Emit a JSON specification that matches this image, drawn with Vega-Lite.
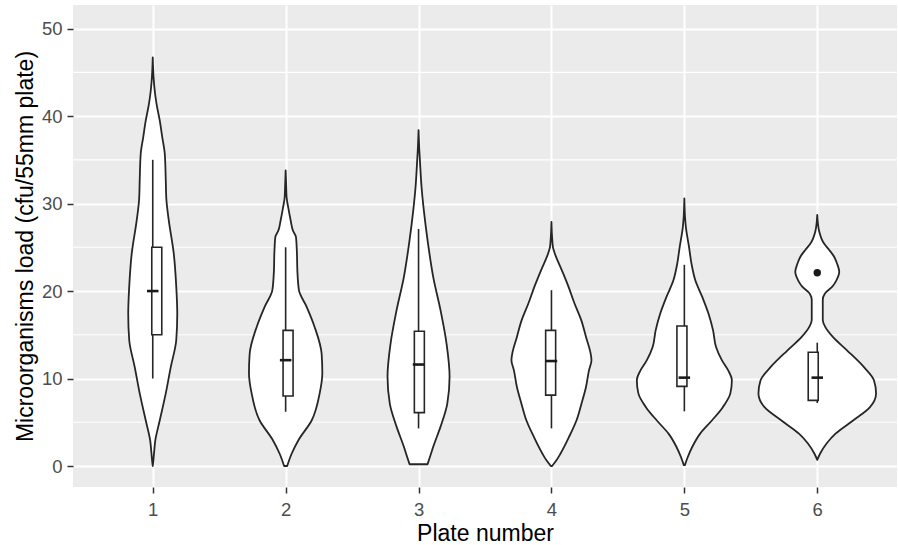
{
  "$schema": "https://vega.github.io/schema/vega-lite/v6.json",
  "width": 824,
  "height": 482,
  "autosize": {"type": "none"},
  "padding": {"left": 73, "top": 5, "right": 1, "bottom": 58},
  "background": "white",
  "config": {
    "view": {"fill": "#ebebeb", "stroke": null},
    "font": "Liberation Sans",
    "axis": {
      "labelFont": "Liberation Sans",
      "titleFont": "Liberation Sans",
      "labelFontSize": 18.5,
      "labelColor": "#4d4d4d",
      "titleFontSize": 23,
      "titleColor": "#000000",
      "titleFontWeight": "normal",
      "tickColor": "#333333",
      "tickSize": 6,
      "tickWidth": 1.5,
      "domain": false,
      "gridColor": "#ffffff",
      "gridWidth": 2
    }
  },
  "datasets": {
    "violin": [
      {"plate": 1, "v": 0, "w": 0}, {"plate": 1, "v": 0.5, "w": 0.008}, {"plate": 1, "v": 1.5, "w": 0.02}, {"plate": 1, "v": 2.9, "w": 0.038}, {"plate": 1, "v": 5.2, "w": 0.105}, {"plate": 1, "v": 8.3, "w": 0.196}, {"plate": 1, "v": 11.3, "w": 0.271}, {"plate": 1, "v": 14.4, "w": 0.354}, {"plate": 1, "v": 17.4, "w": 0.369}, {"plate": 1, "v": 20.5, "w": 0.354}, {"plate": 1, "v": 24.3, "w": 0.316}, {"plate": 1, "v": 28.1, "w": 0.241}, {"plate": 1, "v": 30.5, "w": 0.205}, {"plate": 1, "v": 32.7, "w": 0.196}, {"plate": 1, "v": 35.7, "w": 0.181}, {"plate": 1, "v": 37.6, "w": 0.143}, {"plate": 1, "v": 39.5, "w": 0.105}, {"plate": 1, "v": 41.4, "w": 0.057}, {"plate": 1, "v": 42.9, "w": 0.03}, {"plate": 1, "v": 44.5, "w": 0.012}, {"plate": 1, "v": 46.7, "w": 0},
      {"plate": 2, "v": 0, "w": 0.023}, {"plate": 2, "v": 1.4, "w": 0.09}, {"plate": 2, "v": 3.0, "w": 0.196}, {"plate": 2, "v": 5.2, "w": 0.391}, {"plate": 2, "v": 8.3, "w": 0.512}, {"plate": 2, "v": 10.6, "w": 0.552}, {"plate": 2, "v": 12.8, "w": 0.542}, {"plate": 2, "v": 15.9, "w": 0.436}, {"plate": 2, "v": 18.2, "w": 0.316}, {"plate": 2, "v": 20.1, "w": 0.2}, {"plate": 2, "v": 22.4, "w": 0.176}, {"plate": 2, "v": 24.3, "w": 0.17}, {"plate": 2, "v": 26.2, "w": 0.155}, {"plate": 2, "v": 26.9, "w": 0.11}, {"plate": 2, "v": 28.1, "w": 0.075}, {"plate": 2, "v": 29.5, "w": 0.04}, {"plate": 2, "v": 30.7, "w": 0.015}, {"plate": 2, "v": 32.0, "w": 0.008}, {"plate": 2, "v": 33.8, "w": 0},
      {"plate": 3, "v": 0.2, "w": 0.135}, {"plate": 3, "v": 1.0, "w": 0.17}, {"plate": 3, "v": 2.2, "w": 0.221}, {"plate": 3, "v": 4.5, "w": 0.331}, {"plate": 3, "v": 7.1, "w": 0.432}, {"plate": 3, "v": 10.2, "w": 0.467}, {"plate": 3, "v": 14.0, "w": 0.421}, {"plate": 3, "v": 17.8, "w": 0.331}, {"plate": 3, "v": 21.6, "w": 0.221}, {"plate": 3, "v": 25.4, "w": 0.143}, {"plate": 3, "v": 29.2, "w": 0.08}, {"plate": 3, "v": 31.9, "w": 0.045}, {"plate": 3, "v": 34.6, "w": 0.023}, {"plate": 3, "v": 36.2, "w": 0.011}, {"plate": 3, "v": 38.4, "w": 0},
      {"plate": 4, "v": 0, "w": 0.01}, {"plate": 4, "v": 0.65, "w": 0.075}, {"plate": 4, "v": 1.4, "w": 0.135}, {"plate": 4, "v": 3.3, "w": 0.263}, {"plate": 4, "v": 5.2, "w": 0.376}, {"plate": 4, "v": 7.1, "w": 0.451}, {"plate": 4, "v": 9.0, "w": 0.519}, {"plate": 4, "v": 10.9, "w": 0.564}, {"plate": 4, "v": 12.1, "w": 0.602}, {"plate": 4, "v": 12.8, "w": 0.591}, {"plate": 4, "v": 14.7, "w": 0.522}, {"plate": 4, "v": 16.7, "w": 0.447}, {"plate": 4, "v": 18.6, "w": 0.346}, {"plate": 4, "v": 20.5, "w": 0.256}, {"plate": 4, "v": 22.4, "w": 0.155}, {"plate": 4, "v": 24.3, "w": 0.05}, {"plate": 4, "v": 25.0, "w": 0.023}, {"plate": 4, "v": 26.0, "w": 0.011}, {"plate": 4, "v": 27.9, "w": 0},
      {"plate": 5, "v": 0.1, "w": 0.008}, {"plate": 5, "v": 1.0, "w": 0.05}, {"plate": 5, "v": 2.2, "w": 0.12}, {"plate": 5, "v": 3.7, "w": 0.238}, {"plate": 5, "v": 5.2, "w": 0.414}, {"plate": 5, "v": 6.7, "w": 0.576}, {"plate": 5, "v": 8.3, "w": 0.692}, {"plate": 5, "v": 9.8, "w": 0.715}, {"plate": 5, "v": 10.9, "w": 0.662}, {"plate": 5, "v": 12.1, "w": 0.564}, {"plate": 5, "v": 13.6, "w": 0.477}, {"plate": 5, "v": 15.5, "w": 0.432}, {"plate": 5, "v": 17.4, "w": 0.364}, {"plate": 5, "v": 19.3, "w": 0.271}, {"plate": 5, "v": 21.2, "w": 0.166}, {"plate": 5, "v": 23.1, "w": 0.108}, {"plate": 5, "v": 25.0, "w": 0.071}, {"plate": 5, "v": 27.3, "w": 0.023}, {"plate": 5, "v": 28.5, "w": 0.01}, {"plate": 5, "v": 30.6, "w": 0},
      {"plate": 6, "v": 0.7, "w": 0}, {"plate": 6, "v": 1.4, "w": 0.042}, {"plate": 6, "v": 2.6, "w": 0.143}, {"plate": 6, "v": 3.7, "w": 0.275}, {"plate": 6, "v": 5.2, "w": 0.539}, {"plate": 6, "v": 6.7, "w": 0.79}, {"plate": 6, "v": 8.3, "w": 0.885}, {"plate": 6, "v": 9.8, "w": 0.853}, {"plate": 6, "v": 11.3, "w": 0.703}, {"plate": 6, "v": 13.2, "w": 0.451}, {"plate": 6, "v": 14.7, "w": 0.241}, {"plate": 6, "v": 15.9, "w": 0.12}, {"plate": 6, "v": 16.7, "w": 0.083}, {"plate": 6, "v": 19.0, "w": 0.083}, {"plate": 6, "v": 19.7, "w": 0.113}, {"plate": 6, "v": 20.5, "w": 0.226}, {"plate": 6, "v": 21.2, "w": 0.286}, {"plate": 6, "v": 22.2, "w": 0.331}, {"plate": 6, "v": 23.1, "w": 0.3}, {"plate": 6, "v": 23.9, "w": 0.256}, {"plate": 6, "v": 24.7, "w": 0.18}, {"plate": 6, "v": 25.4, "w": 0.105}, {"plate": 6, "v": 26.9, "w": 0.027}, {"plate": 6, "v": 28.7, "w": 0}
    ],
    "box": [
      {"plate": 1, "lower": 10, "q1": 15, "median": 20, "q3": 25, "upper": 35},
      {"plate": 2, "lower": 6.2, "q1": 8, "median": 12.1, "q3": 15.5, "upper": 25},
      {"plate": 3, "lower": 4.3, "q1": 6.1, "median": 11.6, "q3": 15.4, "upper": 27.1},
      {"plate": 4, "lower": 4.3, "q1": 8.1, "median": 12, "q3": 15.5, "upper": 20.1},
      {"plate": 5, "lower": 6.25, "q1": 9.1, "median": 10.1, "q3": 16, "upper": 23},
      {"plate": 6, "lower": 7.2, "q1": 7.5, "median": 10.1, "q3": 13, "upper": 14.1}
    ],
    "outliers": [
      {"plate": 6, "value": 22.1}
    ],
    "minor": [
      {"level": 5}, {"level": 15}, {"level": 25}, {"level": 35}, {"level": 45}
    ]
  },
  "resolve": {"scale": {"x": "independent"}},
  "layer": [
    {
      "data": {"name": "box"},
      "mark": {"type": "rule", "stroke": "#333333", "strokeWidth": 1.4, "opacity": 0},
      "encoding": {
        "x": {"field": "plate", "type": "quantitative", "scale": {"domain": [0.4, 6.6], "nice": false, "zero": false},
          "axis": {"title": "Plate number", "values": [1, 2, 3, 4, 5, 6], "format": "d", "grid": true, "labelPadding": 7.5, "titlePadding": 3}
        },
        "y": {"field": "lower", "type": "quantitative", "scale": {"domain": [-2.4, 52.7], "nice": false, "zero": false},
          "axis": {
            "orient": "left",
            "title": "Microorganisms load (cfu/55mm plate)",
            "values": [0, 10, 20, 30, 40, 50],
            "grid": true,
            "labelPadding": 5,
            "titlePadding": 4
          }
        },
        "y2": {"field": "upper"}
      }
    },
    {
      "data": {"name": "minor"},
      "mark": {"type": "rule", "stroke": "#ffffff", "strokeWidth": 1.1},
      "encoding": {
        "y": {"field": "level", "type": "quantitative", "scale": {"domain": [-2.4, 52.7], "nice": false, "zero": false}}
      }
    },
    {
      "data": {"name": "violin"},
      "transform": [{"filter": {"field": "plate", "equal": 1}}],
      "mark": {"type": "area", "orient": "horizontal", "interpolate": "monotone", "fill": "white", "stroke": "#262626", "strokeWidth": 1.8, "strokeJoin": "round"},
      "encoding": {
        "y": {"field": "v", "type": "quantitative", "scale": {"domain": [-2.4, 52.7], "nice": false, "zero": false}},
        "x": {"field": "w", "type": "quantitative", "stack": "center", "scale": {"domain": [-0.4155, 5.7845], "nice": false, "zero": false}, "axis": null}
      }
    },
    {
      "data": {"name": "violin"},
      "transform": [{"filter": {"field": "plate", "equal": 2}}],
      "mark": {"type": "area", "orient": "horizontal", "interpolate": "monotone", "fill": "white", "stroke": "#262626", "strokeWidth": 1.8, "strokeJoin": "round"},
      "encoding": {
        "y": {"field": "v", "type": "quantitative", "scale": {"domain": [-2.4, 52.7], "nice": false, "zero": false}},
        "x": {"field": "w", "type": "quantitative", "stack": "center", "scale": {"domain": [-1.324, 4.876], "nice": false, "zero": false}, "axis": null}
      }
    },
    {
      "data": {"name": "violin"},
      "transform": [{"filter": {"field": "plate", "equal": 3}}],
      "mark": {"type": "area", "orient": "horizontal", "interpolate": "monotone", "fill": "white", "stroke": "#262626", "strokeWidth": 1.8, "strokeJoin": "round"},
      "encoding": {
        "y": {"field": "v", "type": "quantitative", "scale": {"domain": [-2.4, 52.7], "nice": false, "zero": false}},
        "x": {"field": "w", "type": "quantitative", "stack": "center", "scale": {"domain": [-2.3665, 3.8335], "nice": false, "zero": false}, "axis": null}
      }
    },
    {
      "data": {"name": "violin"},
      "transform": [{"filter": {"field": "plate", "equal": 4}}],
      "mark": {"type": "area", "orient": "horizontal", "interpolate": "monotone", "fill": "white", "stroke": "#262626", "strokeWidth": 1.8, "strokeJoin": "round"},
      "encoding": {
        "y": {"field": "v", "type": "quantitative", "scale": {"domain": [-2.4, 52.7], "nice": false, "zero": false}},
        "x": {"field": "w", "type": "quantitative", "stack": "center", "scale": {"domain": [-3.299, 2.901], "nice": false, "zero": false}, "axis": null}
      }
    },
    {
      "data": {"name": "violin"},
      "transform": [{"filter": {"field": "plate", "equal": 5}}],
      "mark": {"type": "area", "orient": "horizontal", "interpolate": "monotone", "fill": "white", "stroke": "#262626", "strokeWidth": 1.8, "strokeJoin": "round"},
      "encoding": {
        "y": {"field": "v", "type": "quantitative", "scale": {"domain": [-2.4, 52.7], "nice": false, "zero": false}},
        "x": {"field": "w", "type": "quantitative", "stack": "center", "scale": {"domain": [-4.2425, 1.9575], "nice": false, "zero": false}, "axis": null}
      }
    },
    {
      "data": {"name": "violin"},
      "transform": [{"filter": {"field": "plate", "equal": 6}}],
      "mark": {"type": "area", "orient": "horizontal", "interpolate": "monotone", "fill": "white", "stroke": "#262626", "strokeWidth": 1.8, "strokeJoin": "round"},
      "encoding": {
        "y": {"field": "v", "type": "quantitative", "scale": {"domain": [-2.4, 52.7], "nice": false, "zero": false}},
        "x": {"field": "w", "type": "quantitative", "stack": "center", "scale": {"domain": [-5.1575, 1.0425], "nice": false, "zero": false}, "axis": null}
      }
    },
    {
      "data": {"name": "box"},
      "mark": {"type": "rule", "stroke": "#262626", "strokeWidth": 1.6},
      "encoding": {
        "x": {"field": "plate", "type": "quantitative", "scale": {"domain": [0.4, 6.6], "nice": false, "zero": false}, "axis": null},
        "y": {"field": "lower", "type": "quantitative", "scale": {"domain": [-2.4, 52.7], "nice": false, "zero": false}},
        "y2": {"field": "upper"}
      }
    },
    {
      "data": {"name": "box"},
      "mark": {"type": "bar", "size": 10, "fill": "white", "stroke": "#262626", "strokeWidth": 1.6},
      "encoding": {
        "x": {"field": "plate", "type": "quantitative", "scale": {"domain": [0.4, 6.6], "nice": false, "zero": false}, "axis": null},
        "y": {"field": "q1", "type": "quantitative", "scale": {"domain": [-2.4, 52.7], "nice": false, "zero": false}},
        "y2": {"field": "q3"}
      }
    },
    {
      "data": {"name": "box"},
      "mark": {"type": "tick", "orient": "horizontal", "size": 11.5, "thickness": 2.6, "color": "#1a1a1a", "opacity": 1},
      "encoding": {
        "x": {"field": "plate", "type": "quantitative", "scale": {"domain": [0.4, 6.6], "nice": false, "zero": false}, "axis": null},
        "y": {"field": "median", "type": "quantitative", "scale": {"domain": [-2.4, 52.7], "nice": false, "zero": false}}
      }
    },
    {
      "data": {"name": "outliers"},
      "mark": {"type": "point", "filled": true, "size": 55, "color": "#1a1a1a", "opacity": 1},
      "encoding": {
        "x": {"field": "plate", "type": "quantitative", "scale": {"domain": [0.4, 6.6], "nice": false, "zero": false}, "axis": null},
        "y": {"field": "value", "type": "quantitative", "scale": {"domain": [-2.4, 52.7], "nice": false, "zero": false}}
      }
    }
  ]
}
